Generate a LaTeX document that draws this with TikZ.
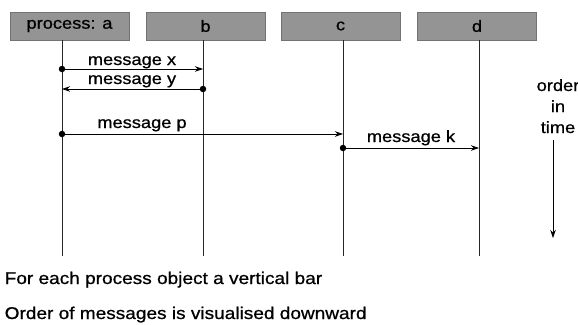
\documentclass[tikz,border=0pt]{standalone}
\usepackage{fontspec}
\setmainfont{Liberation Sans}[FakeStretch=1.12, FakeBold=0.8]
\usetikzlibrary{arrows.meta}

\tikzset{
	procbox/.style={fill=black!42, draw=black!55, minimum width=119pt, minimum height=28pt, inner sep=0pt, font=\fontsize{16.3}{20}\selectfont},
	lifeline/.style={draw=black!85, line width=0.8pt},
	msg/.style={line width=0.8pt, -{Stealth[length=8pt,width=5.5pt]}},
	sender/.style={circle, fill=black, inner sep=0pt, minimum size=6.5pt},
	msglabel/.style={anchor=base, inner sep=0pt, font=\fontsize{16.3}{20}\selectfont},
	note/.style={anchor=base west, inner sep=0pt, font=\fontsize{17}{20}\selectfont},
}

\begin{document}
\begin{tikzpicture}[x=1pt, y=-1pt]
			\useasboundingbox (0,0) rectangle (578,324);
			%%%%% PROCESSES %%%%%
			\node[procbox] (pa) at (69.5,26) {process: a};
			\node[procbox] (pb) at (205.5,26) {b};
			\node[procbox] (pc) at (340.5,26) {c};
			\node[procbox] (pd) at (477,26) {d};
			
			\coordinate (a0) at (62,40);   \coordinate (a1) at (62,256);
			\coordinate (b0) at (203,40);  \coordinate (b1) at (203,256);
			\coordinate (c0) at (343,40);  \coordinate (c1) at (343,256);
			\coordinate (d0) at (479,40);  \coordinate (d1) at (479,256);
			\draw[lifeline] (a0) -- (a1);
			\draw[lifeline] (b0) -- (b1);
			\draw[lifeline] (c0) -- (c1);
			\draw[lifeline] (d0) -- (d1);
			
			%%%%% MESSAGES %%%%%
			\node[sender] (sx) at (62,69) {};
			\coordinate (rx) at (203,69);
			\draw[msg] (sx.center) -- (rx);
			\node[msglabel] (lx) at (132,65) {message x};
			
			\node[sender] (sy) at (203,89) {};
			\coordinate (ry) at (62,89);
			\draw[msg] (sy.center) -- (ry);
			\node[msglabel] (ly) at (132,84) {message y};
			
			\node[sender] (sp) at (62,134) {};
			\coordinate (rp) at (343,134);
			\draw[msg] (sp.center) -- (rp);
			\node[msglabel] (lp) at (142,128) {message p};
			
			\node[sender] (sk) at (343,148) {};
			\coordinate (rk) at (479,148);
			\draw[msg] (sk.center) -- (rk);
			\node[msglabel] (lk) at (411,142) {message k};
			
			%%%%% TIME %%%%%
			\node[msglabel] (t1) at (558,91) {order};
			\node[msglabel] (t2) at (558,112) {in};
			\node[msglabel] (t3) at (558,133) {time};
			\coordinate (tstart) at (553,140);
			\coordinate (tend) at (553,238);
			\draw[msg] (tstart) -- (tend);
			
			%%%%% NOTES %%%%%
			\node[note] (n1) at (4.5,284) {For each process object a vertical bar};
			\node[note] (n2) at (4.5,319) {Order of messages is visualised downward};
\end{tikzpicture}
\end{document}
